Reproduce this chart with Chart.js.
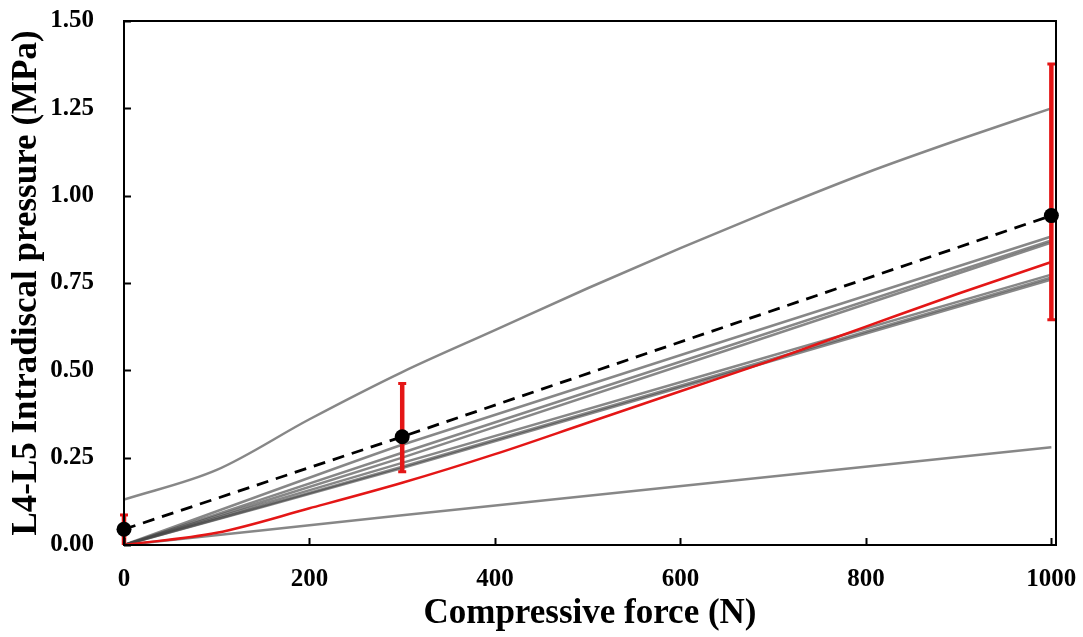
<!DOCTYPE html>
<html>
<head>
<meta charset="utf-8">
<script src="https://cdn.jsdelivr.net/npm/chart.js@4/dist/chart.umd.min.js"></script>
<style>
  html, body { margin: 0; padding: 0; background: #fff; }
  #wrap { width: 1083px; height: 637px; }
</style>
</head>
<body>
<div id="wrap"><canvas id="pressureChart" width="1083" height="637"></canvas></div>
<script>
// mean of specimens with error bar ends
const forceMean = [0, 300, 1000];
const meanPressure = [0.045, 0.31, 0.943];
const errLow = [0.0, 0.21, 0.645];
const errHigh = [0.086, 0.462, 1.377];

// curves read every 100 N
const forceCurve = [0, 100, 200, 300, 400, 500, 600, 700, 800, 900, 1000];
const topSpecimen = [0.13, 0.215, 0.36, 0.495, 0.615, 0.735, 0.85, 0.96, 1.065, 1.16, 1.25];
const redModel = [0, 0.035, 0.105, 0.178, 0.26, 0.35, 0.44, 0.53, 0.625, 0.72, 0.81];

// other specimens, read at 0, 300 and 1000 N
const forceShort = [0, 300, 1000];
const specA = [0, 0.287, 0.883];
const specB = [0, 0.264, 0.872];
const specC = [0, 0.25, 0.866];
const specD = [0, 0.235, 0.774];
const specE = [0, 0.224, 0.766];
const specF = [0, 0.22, 0.76];
const specLow = [0, 0.085, 0.28];

const xTicks = [0, 200, 400, 600, 800, 1000];
const yTicks = [0, 0.25, 0.5, 0.75, 1.0, 1.25, 1.5];

const RED = 'rgb(228,22,22)';
const GRAY = 'rgba(70,70,70,0.65)';
const FONT = "'Liberation Serif', 'Times New Roman', serif";

function pts(xs, ys) {
    return xs.map((x, i) => ({x: x, y: ys[i]}));
}

function grayLine(xs, ys, tension) {
    return {
        data: pts(xs, ys),
        borderColor: GRAY,
        borderWidth: 2.5,
        pointRadius: 0,
        tension: tension,
        fill: false
    };
}

// red error bars, drawn just before the black mean points
const errorBars = {
    id: 'errorBars',
    beforeDatasetDraw(chart, args) {
        if (args.index !== 0) return;
        const ctx = chart.ctx;
        const xs = chart.scales.x, ys = chart.scales.y;
        ctx.save();
        ctx.strokeStyle = RED;
        for (let i = 0; i < forceMean.length; i++) {
            const px = xs.getPixelForValue(forceMean[i]);
            const top = ys.getPixelForValue(errHigh[i]);
            const bot = ys.getPixelForValue(errLow[i]);
            ctx.lineWidth = 4.5;
            ctx.beginPath();
            ctx.moveTo(px, top);
            ctx.lineTo(px, bot);
            ctx.stroke();
            ctx.lineWidth = 3;
            ctx.beginPath();
            ctx.moveTo(px - 4, top); ctx.lineTo(px + 4, top);
            if (errLow[i] > 0) { ctx.moveTo(px - 4, bot); ctx.lineTo(px + 4, bot); }
            ctx.stroke();
        }
        ctx.restore();
    }
};

// box frame and inward ticks like the original figure
const frame = {
    id: 'frame',
    afterDraw(chart) {
        const ctx = chart.ctx;
        const a = chart.chartArea;
        const xs = chart.scales.x, ys = chart.scales.y;
        ctx.save();
        ctx.strokeStyle = '#000';
        ctx.lineWidth = 2;
        ctx.strokeRect(a.left, a.top, a.right - a.left, a.bottom - a.top);
        ctx.beginPath();
        xTicks.forEach(v => {
            const px = Math.round(xs.getPixelForValue(v)) + 0.5;
            ctx.moveTo(px, a.bottom);
            ctx.lineTo(px, a.bottom - 7);
        });
        yTicks.forEach(v => {
            const py = Math.round(ys.getPixelForValue(v)) + 0.5;
            ctx.moveTo(a.left, py);
            ctx.lineTo(a.left + 7, py);
        });
        ctx.stroke();
        ctx.restore();
    }
};

const data = {
    datasets: [
        {
            data: pts(forceMean, meanPressure),
            showLine: false,
            pointRadius: 7.5,
            pointBackgroundColor: '#000',
            pointBorderColor: '#000',
            pointBorderWidth: 0,
            clip: false
        },
        {
            data: pts(forceMean, meanPressure),
            borderColor: '#000',
            borderWidth: 2.8,
            borderDash: [12, 8],
            pointRadius: 0,
            tension: 0
        },
        {
            data: pts(forceCurve, redModel),
            borderColor: RED,
            borderWidth: 2.5,
            pointRadius: 0,
            cubicInterpolationMode: 'monotone'
        },
        Object.assign(grayLine(forceCurve, topSpecimen, 0), {cubicInterpolationMode: 'monotone'}),
        grayLine(forceShort, specA, 0.15),
        grayLine(forceShort, specB, 0.15),
        grayLine(forceShort, specC, 0.15),
        grayLine(forceShort, specD, 0.15),
        grayLine(forceShort, specE, 0.15),
        grayLine(forceShort, specF, 0.15),
        grayLine(forceShort, specLow, 0.1)
    ]
};

const config = {
    type: 'line',
    data: data,
    plugins: [errorBars, frame],
    options: {
        responsive: false,
        animation: false,
        layout: { padding: { top: 21, right: 27, left: 0, bottom: 0 } },
        plugins: {
            legend: { display: false },
            tooltip: { enabled: false }
        },
        scales: {
            x: {
                type: 'linear',
                min: 0,
                max: 1005,
                grid: { display: false },
                border: { display: false },
                afterBuildTicks: s => { s.ticks = xTicks.map(v => ({value: v})); },
                afterFit: s => { s.height = 92; s.paddingLeft = 0; s.paddingRight = 0; },
                ticks: {
                    padding: 12,
                    color: '#000',
                    maxRotation: 0,
                    font: { family: FONT, size: 25, weight: 'bold' },
                    callback: v => String(v)
                },
                title: {
                    display: true,
                    text: 'Compressive force (N)',
                    color: '#000',
                    padding: { top: 0, bottom: 2 },
                    font: { family: FONT, size: 35, weight: 'bold' }
                }
            },
            y: {
                min: 0,
                max: 1.5,
                grid: { display: false },
                border: { display: false },
                afterBuildTicks: s => { s.ticks = yTicks.map(v => ({value: v})); },
                afterFit: s => { s.width = 124; s.paddingTop = 0; s.paddingBottom = 0; },
                ticks: {
                    padding: 22,
                    color: '#000',
                    font: { family: FONT, size: 25, weight: 'bold' },
                    callback: v => Number(v).toFixed(2)
                },
                title: {
                    display: true,
                    text: 'L4-L5 Intradiscal pressure (MPa)',
                    color: '#000',
                    padding: { top: 6, bottom: 0 },
                    font: { family: FONT, size: 35, weight: 'bold' }
                }
            }
        }
    }
};

let ctx = document.getElementById('pressureChart').getContext('2d');
new Chart(ctx, config);
</script>
</body>
</html>
